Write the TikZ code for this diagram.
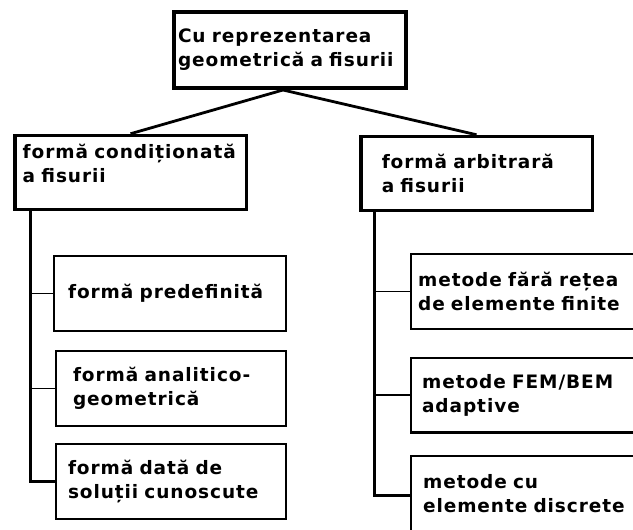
\documentclass[tikz,border=0pt]{standalone}
\usepackage{fontspec}
\setmainfont{DejaVu Sans}[LetterSpace=5]
\usetikzlibrary{positioning}

\begin{document}
\begin{tikzpicture}[x=1pt, y=-1pt,
   box/.style={draw, align=left, font=\bfseries\fontsize{18.5}{24}\selectfont,
               inner ysep=2pt},
   rootbox/.style={box, line width=4pt, minimum width=232pt, minimum height=76pt},
   mainbox/.style={box, line width=3.5pt, minimum width=231.5pt, minimum height=74pt},
   leafbox/.style={box, line width=2.2pt, minimum width=230pt, minimum height=74.8pt},
   link/.style={line width=2.8pt},
   trunk/.style={line width=3pt},
   twig/.style={line width=1.8pt}]
  \clip (0,0) rectangle (633,530);
  % top level
  \node[rootbox, inner xsep=4pt, text width=224pt] (root) at (290,50)
    {Cu reprezentarea\\geometrică a fisurii};
  % two kinds of crack shape
  \node[mainbox, inner xsep=8pt, text width=215.5pt] (cond) at (130.5,172.5)
    {formă condiționată\\a fisurii\\[-6pt]\mbox{}};
  \node[mainbox, inner xsep=21pt, text width=189.5pt] (arb) at (476.5,173.5)
    {formă arbitrară\\a fisurii};
  % left branch
  \node[leafbox, minimum width=231.8pt, inner xsep=14pt, text width=203.8pt] (pre) at (170,293.5)
    {formă predefinită};
  \node[leafbox, inner xsep=17pt, text width=196pt] (anal) at (171,388.5)
    {formă analitico-\\geometrică};
  \node[leafbox, inner xsep=12pt, text width=206pt] (sol) at (171,481.5)
    {formă dată de\\soluții cunoscute};
  % right branch
  \node[leafbox, minimum width=247.8pt, inner xsep=7pt, text width=233.8pt] (mfr) at (535,291.5)
    {metode fără rețea\\de elemente finite};
  \node[leafbox, minimum width=247.8pt, inner xsep=11pt, text width=225.8pt] (fem) at (535,395)
    {metode FEM/BEM\\adaptive};
  \node[leafbox, minimum width=247.8pt, inner xsep=12pt, text width=223.8pt] (disc) at (535,493.5)
    {metode cu\\elemente discrete};
  % connectors
  \coordinate (apex) at ([xshift=-7pt]root.south);
  \draw[link] (apex) -- (cond.north);
  \draw[link] (apex) -- (arb.north);
  \draw[trunk] ([xshift=17pt]cond.south west) |- (sol.west);
  \draw[twig] ([xshift=17pt]cond.south west |- pre.west) -- (pre.west);
  \draw[twig] ([xshift=17pt]cond.south west |- anal.west) -- (anal.west);
  \draw[trunk] ([xshift=15pt]arb.south west) |- ([yshift=-1.5pt]disc.west);
  \draw[twig] ([xshift=15pt]arb.south west |- mfr.west) -- (mfr.west);
  \draw[twig] ([xshift=15pt]arb.south west |- fem.west) -- (fem.west);
\end{tikzpicture}
\end{document}
